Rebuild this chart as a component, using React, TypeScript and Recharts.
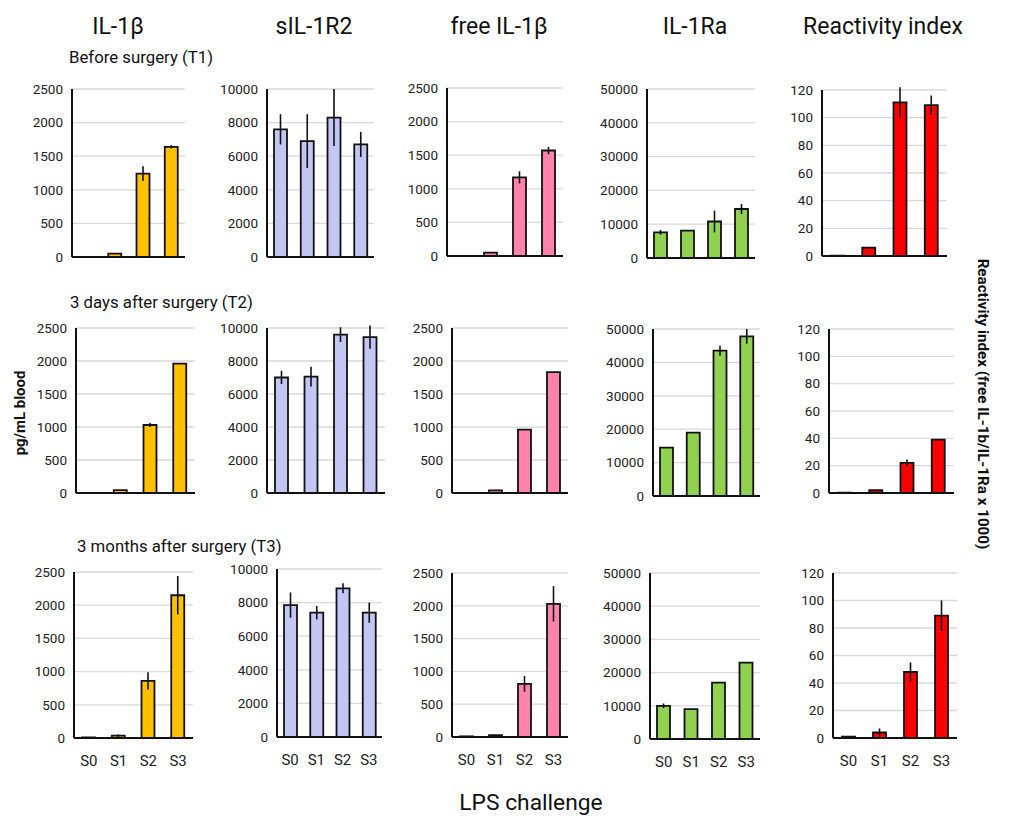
import React from "react";
import { Bar, BarChart, CartesianGrid, ErrorBar, XAxis, YAxis } from "recharts";

const CATEGORIES = ["S0", "S1", "S2", "S3"];
const TIMEPOINTS = ["Before surgery (T1)", "3 days after surgery (T2)", "3 months after surgery (T3)"];
const MARKERS = ["IL-1β", "sIL-1R2", "free IL-1β", "IL-1Ra", "Reactivity index"];

// rows: T1, T2, T3; columns: S0..S3
const IL1B_MEAN = [[0, 50, 1240, 1640], [0, 45, 1030, 1960], [10, 35, 860, 2150]];
const IL1B_SD = [[0, 0, 110, 25], [0, 0, 30, 0], [0, 20, 130, 290]];
const SIL1R2_MEAN = [[7600, 6900, 8300, 6700], [7000, 7050, 9600, 9450], [7850, 7400, 8850, 7400]];
const SIL1R2_SD = [[900, 1600, 1700, 750], [400, 600, 450, 700], [750, 400, 300, 600]];
const FREE_MEAN = [[0, 50, 1170, 1570], [0, 40, 960, 1830], [10, 30, 810, 2030]];
const FREE_SD = [[0, 0, 90, 55], [0, 0, 0, 0], [0, 0, 120, 270]];
const IL1RA_MEAN = [[7600, 8100, 10800, 14500], [14500, 19000, 43500, 47800], [10000, 9000, 17000, 23000]];
const IL1RA_SD = [[700, 0, 3200, 1500], [0, 0, 1500, 2200], [700, 0, 0, 0]];
const RI_MEAN = [[0.3, 6, 111, 109], [0.3, 2, 22, 39], [1, 4, 48, 89]];
const RI_SD = [[0, 0, 11, 7], [0, 0, 2.5, 0], [0, 3, 7, 11]];

const IL1B_TICKS = [0, 500, 1000, 1500, 2000, 2500];
const SIL1R2_TICKS = [0, 2000, 4000, 6000, 8000, 10000];
const IL1RA_TICKS = [0, 10000, 20000, 30000, 40000, 50000];
const RI_TICKS = [0, 20, 40, 60, 80, 100, 120];

const SERIES = [
  { mean: IL1B_MEAN, sd: IL1B_SD, ticks: IL1B_TICKS, color: "#FFC000" },
  { mean: SIL1R2_MEAN, sd: SIL1R2_SD, ticks: SIL1R2_TICKS, color: "#C3C6F2" },
  { mean: FREE_MEAN, sd: FREE_SD, ticks: IL1B_TICKS, color: "#FF82AC" },
  { mean: IL1RA_MEAN, sd: IL1RA_SD, ticks: IL1RA_TICKS, color: "#92D050" },
  { mean: RI_MEAN, sd: RI_SD, ticks: RI_TICKS, color: "#FF0000" },
];

// plot-area placement per row / column: [axisX, right, top, bottom]
const LAYOUT = [
  [[72, 185, 89, 257], [267, 374, 89, 257], [447, 563, 88, 256], [647, 755, 89, 258], [822, 947, 90, 256]],
  [[76, 195, 328, 493], [267, 385, 328, 493], [452, 568, 328, 493], [653, 760, 329, 496], [829, 954, 329, 493]],
  [[74, 193, 572, 738], [277, 382, 569, 737], [452, 568, 573, 737], [650, 760, 573, 739], [833, 957, 573, 738]],
];

const FONT = "Roboto, 'Noto Sans', sans-serif";
const Y_AXIS_W = 60;
const M_TOP = 10;
const X_AXIS_H = 40;

function Panel({ row, col }: { row: number; col: number }) {
  const s = SERIES[col];
  const [axisX, right, top, bottom] = LAYOUT[row][col];
  const data = CATEGORIES.map((c, i) => ({ cat: c, mean: s.mean[row][i], sd: s.sd[row][i] }));
  const left = axisX - Y_AXIS_W;
  const width = right - left;
  const height = bottom - top + M_TOP + X_AXIS_H;
  const max = s.ticks[s.ticks.length - 1];
  return (
    <div style={{ position: "absolute", left, top: top - M_TOP }}>
      <BarChart width={width} height={height} data={data} margin={{ top: M_TOP, right: 0, bottom: 0, left: 0 }}>
        <CartesianGrid vertical={false} stroke="#d9d9d9" strokeWidth={1.3} />
        <XAxis
          dataKey="cat"
          height={X_AXIS_H}
          axisLine={{ stroke: "#111", strokeWidth: 2 }}
          tickLine={false}
          tickSize={0}
          tickMargin={17}
          tick={row === 2 ? { fill: "#222", fontSize: 15, fontFamily: FONT } : false}
        />
        <YAxis
          width={Y_AXIS_W}
          domain={[0, max]}
          ticks={s.ticks}
          allowDataOverflow
          interval={0}
          axisLine={{ stroke: "#111", strokeWidth: 2 }}
          tickLine={false}
          tickSize={0}
          tickMargin={9}
          tick={{ fill: "#222", fontSize: 13.5, fontFamily: FONT }}
        />
        <Bar dataKey="mean" fill={s.color} stroke="#111" strokeWidth={1.8} barSize={13} isAnimationActive={false}>
          <ErrorBar dataKey="sd" width={0} stroke="#111" strokeWidth={1.6} direction="y" />
        </Bar>
      </BarChart>
    </div>
  );
}

const TITLE_X = [118, 314, 499, 695, 883];
const ROW_LABEL_POS = [[69, 57], [70, 302], [77, 546]];

export default function App() {
  return (
    <div
      style={{
        position: "absolute",
        left: 0,
        top: 0,
        width: 1013,
        height: 824,
        background: "#fff",
        fontFamily: FONT,
        color: "#111",
        overflow: "hidden",
      }}
    >
      {MARKERS.map((m, i) => (
        <div
          key={m}
          style={{ position: "absolute", left: TITLE_X[i], top: 26, transform: "translate(-50%, -50%)", fontSize: 23, whiteSpace: "nowrap" }}
        >
          {m}
        </div>
      ))}
      {TIMEPOINTS.map((t, i) => (
        <div
          key={t}
          style={{ position: "absolute", left: ROW_LABEL_POS[i][0], top: ROW_LABEL_POS[i][1], transform: "translateY(-50%)", fontSize: 16.8, whiteSpace: "nowrap" }}
        >
          {t}
        </div>
      ))}
      {[0, 1, 2].map((r) => [0, 1, 2, 3, 4].map((c) => <Panel key={`${r}-${c}`} row={r} col={c} />))}
      <div
        style={{ position: "absolute", left: 20, top: 413, transform: "translate(-50%, -50%) rotate(-90deg)", fontSize: 14.9, fontWeight: 700, whiteSpace: "nowrap" }}
      >
        pg/mL blood
      </div>
      <div
        style={{ position: "absolute", left: 983, top: 404, transform: "translate(-50%, -50%) rotate(90deg)", fontSize: 15.2, fontWeight: 700, whiteSpace: "nowrap" }}
      >
        Reactivity index (free IL-1b/IL-1Ra x 1000)
      </div>
      <div
        style={{ position: "absolute", left: 531, top: 802, transform: "translate(-50%, -50%)", fontSize: 22.8, whiteSpace: "nowrap" }}
      >
        LPS challenge
      </div>
    </div>
  );
}
